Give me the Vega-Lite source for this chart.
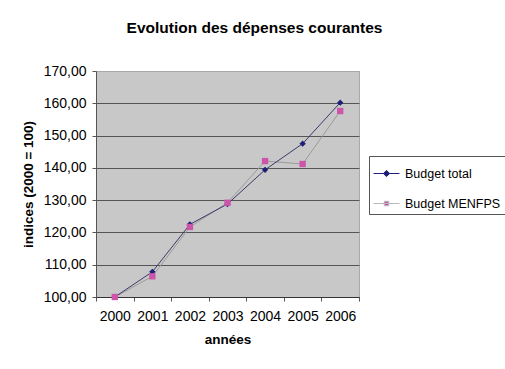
{
  "$schema": "https://vega.github.io/schema/vega-lite/v6.json",
  "autosize": "none",
  "width": 263,
  "height": 226,
  "padding": {"left": 96, "top": 71, "right": 146, "bottom": 72},
  "background": "white",
  "title": {
    "text": "Evolution des dépenses courantes",
    "font": "Liberation Sans",
    "fontSize": 15.5,
    "fontWeight": "bold",
    "color": "#000000",
    "anchor": "middle",
    "frame": "group",
    "dx": 27,
    "offset": 28
  },
  "config": {
    "font": "Liberation Sans",
    "view": {"fill": "#C8C8C8", "stroke": "#A8A8A8", "strokeWidth": 1},
    "axis": {
      "labelFont": "Liberation Sans",
      "labelFontSize": 14,
      "labelColor": "#000000",
      "titleFont": "Liberation Sans",
      "titleFontSize": 13.5,
      "titleFontWeight": "bold",
      "titleColor": "#000000",
      "domainColor": "#555555",
      "tickColor": "#555555"
    },
    "legend": {
      "orient": "none",
      "legendX": 273,
      "legendY": 85,
      "strokeColor": "#555555",
      "padding": 4,
      "rowPadding": 10,
      "labelFont": "Liberation Sans",
      "labelFontSize": 12.5,
      "labelColor": "#000000",
      "labelOffset": 5,
      "symbolSize": 676,
      "symbolStrokeWidth": 1
    }
  },
  "data": {
    "values": [
      {"annee": "2000", "serie": "Budget total", "indice": 100.0},
      {"annee": "2001", "serie": "Budget total", "indice": 107.8},
      {"annee": "2002", "serie": "Budget total", "indice": 122.5},
      {"annee": "2003", "serie": "Budget total", "indice": 128.8},
      {"annee": "2004", "serie": "Budget total", "indice": 139.4},
      {"annee": "2005", "serie": "Budget total", "indice": 147.5},
      {"annee": "2006", "serie": "Budget total", "indice": 160.2},
      {"annee": "2000", "serie": "Budget MENFPS", "indice": 100.0},
      {"annee": "2001", "serie": "Budget MENFPS", "indice": 106.4},
      {"annee": "2002", "serie": "Budget MENFPS", "indice": 121.7},
      {"annee": "2003", "serie": "Budget MENFPS", "indice": 129.2},
      {"annee": "2004", "serie": "Budget MENFPS", "indice": 142.1},
      {"annee": "2005", "serie": "Budget MENFPS", "indice": 141.2},
      {"annee": "2006", "serie": "Budget MENFPS", "indice": 157.6}
    ]
  },
  "encoding": {
    "x": {
      "field": "annee",
      "type": "ordinal",
      "scale": {"type": "band", "paddingInner": 0, "paddingOuter": 0},
      "axis": {
        "title": "années",
        "labelAngle": 0,
        "tickBand": "extent",
        "tickSize": 4,
        "labelPadding": 8,
        "titlePadding": 9,
        "domainColor": "#333333"
      }
    },
    "y": {
      "field": "indice",
      "type": "quantitative",
      "scale": {"domain": [100, 170], "nice": false, "zero": false},
      "axis": {
        "title": "indices (2000 = 100)",
        "values": [100, 110, 120, 130, 140, 150, 160, 170],
        "labelExpr": "replace(format(datum.value, '.2f'), '.', ',')",
        "tickSize": 4,
        "labelPadding": 6,
        "titlePadding": 8,
        "grid": true,
        "gridColor": {"condition": {"test": "datum.value == 170", "value": "#A8A8A8"}, "value": "#555555"},
        "gridWidth": 1,
        "domainColor": "#555555"
      }
    }
  },
  "layer": [
    {
      "transform": [{"filter": "datum.serie === 'Budget MENFPS'"}],
      "mark": {"type": "line", "strokeWidth": 1, "color": "#9A9A9A"},
      "encoding": {}
    },
    {
      "transform": [{"filter": "datum.serie === 'Budget total'"}],
      "mark": {"type": "line", "strokeWidth": 1, "color": "#3A3A6A"},
      "encoding": {}
    },
    {
      "transform": [{"filter": "datum.serie === 'Budget total'"}],
      "mark": {"type": "point", "filled": true, "opacity": 1, "shape": "diamond", "size": 40, "color": "#1F1F78"},
      "encoding": {}
    },
    {
      "transform": [{"filter": "datum.serie === 'Budget MENFPS'"}],
      "mark": {"type": "point", "filled": true, "opacity": 1, "shape": "square", "size": 40, "color": "#CC55AA"},
      "encoding": {}
    },
    {
      "transform": [{"filter": "false"}],
      "mark": {"type": "point", "filled": true, "opacity": 1, "strokeWidth": 1},
      "encoding": {
        "fill": {
          "field": "serie",
          "type": "nominal",
          "title": null,
          "scale": {"domain": ["Budget total", "Budget MENFPS"], "range": ["#1F1F78", "#CC55AA"]}
        },
        "stroke": {
          "field": "serie",
          "type": "nominal",
          "title": null,
          "scale": {"domain": ["Budget total", "Budget MENFPS"], "range": ["#1F1F78", "#B8B8B8"]}
        },
        "shape": {
          "field": "serie",
          "type": "nominal",
          "title": null,
          "scale": {
            "domain": ["Budget total", "Budget MENFPS"],
            "range": ["M-1,0L1,0M0,-0.24L0.24,0L0,0.24L-0.24,0Z", "M-1,0L1,0M-0.17,-0.17L0.17,-0.17L0.17,0.17L-0.17,0.17Z"]
          }
        }
      }
    }
  ]
}
